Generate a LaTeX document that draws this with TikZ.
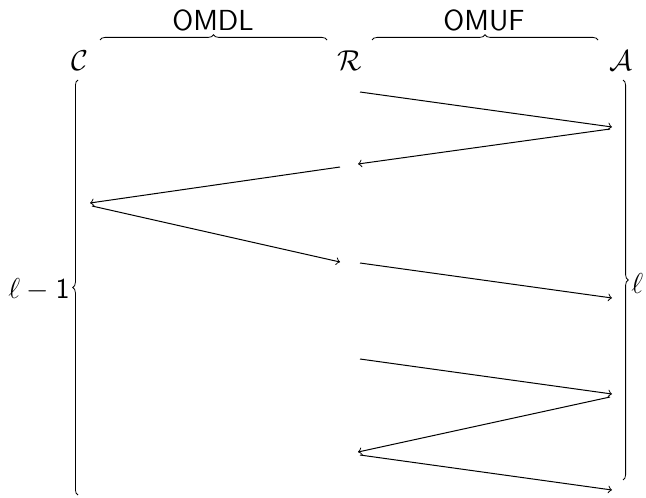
\documentclass[tikz,border=0pt]{standalone}
\usetikzlibrary{decorations.pathreplacing}
\begin{document}
\begin{tikzpicture}[x=0.5pt,y=-0.5pt,
  lbl/.style={inner sep=0pt,font=\fontsize{14.5}{17}\selectfont\sffamily},
  brc/.style={decorate,decoration={brace,amplitude=2.6pt}},
  msg/.style={->,line width=0.5pt}]
\useasboundingbox (0,0) rectangle (646,497);
% participants
\node[lbl] (C) at (80,61) {$\mathcal{C}$};
\node[lbl] (R) at (350,61) {$\mathcal{R}$};
\node[lbl] (A) at (621,61) {$\mathcal{A}$};
% top braces
\coordinate (b1s) at (100,40);
\coordinate (b1e) at (327,40);
\coordinate (b2s) at (372,40);
\coordinate (b2e) at (598,40);
\draw[brc] (b1s) -- (b1e);
\draw[brc] (b2s) -- (b2e);
\node[lbl] (omdl) at (213,20) {OMDL};
\node[lbl] (omuf) at (484,20) {OMUF};
% side braces
\coordinate (l1) at (78,495);
\coordinate (l2) at (78,80);
\coordinate (r1) at (623,80);
\coordinate (r2) at (623,480);
\draw[brc] (l1) -- (l2);
\draw[brc] (r1) -- (r2);
\node[lbl,anchor=east] (lm1) at (70,290) {$\ell - \mathsf{1}$};
\node[lbl,anchor=west] (lr) at (631,283) {$\ell$};
% message end points
\coordinate (m1s) at (360,92);  \coordinate (m1e) at (612,127);
\coordinate (m2s) at (610,129); \coordinate (m2e) at (358,164);
\coordinate (m3s) at (340,167); \coordinate (m3e) at (90,203);
\coordinate (m4s) at (92,206);  \coordinate (m4e) at (340,262);
\coordinate (m5s) at (360,263); \coordinate (m5e) at (612,298);
\coordinate (m6s) at (360,359); \coordinate (m6e) at (612,394);
\coordinate (m7s) at (610,397); \coordinate (m7e) at (358,452);
\coordinate (m8s) at (360,455); \coordinate (m8e) at (612,490);
\draw[msg] (m1s) -- (m1e);
\draw[msg] (m2s) -- (m2e);
\draw[msg] (m3s) -- (m3e);
\draw[msg] (m4s) -- (m4e);
\draw[msg] (m5s) -- (m5e);
\draw[msg] (m6s) -- (m6e);
\draw[msg] (m7s) -- (m7e);
\draw[msg] (m8s) -- (m8e);
\end{tikzpicture}
\end{document}
